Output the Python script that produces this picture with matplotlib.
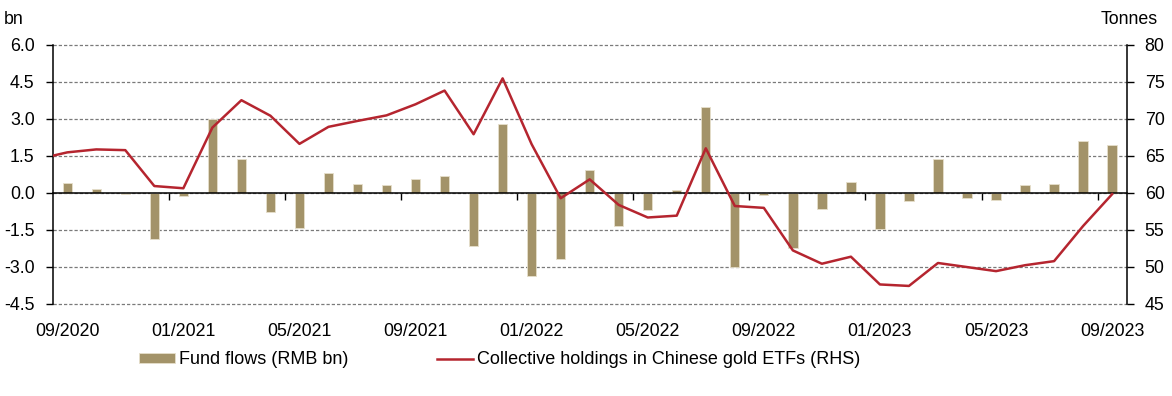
import numpy as np
import pandas as pd
import matplotlib
matplotlib.use("Agg")
import matplotlib.pyplot as plt
from matplotlib.ticker import FixedLocator, FormatStrFormatter

plt.rcParams['font.family'] = ['Liberation Sans', 'DejaVu Sans']

# monthly data, 09/2020 .. 09/2023
months = pd.date_range("2020-09-01", "2023-09-01", freq="MS").strftime("%m/%Y").tolist()

fund_flows = [0.40, 0.16, -0.07, -1.87, -0.15, 2.97, 1.38, -0.79, -1.45, 0.78,
              0.36, 0.32, 0.54, 0.66, -2.17, 2.77, -3.36, -2.70, 0.94, -1.37,
              -0.71, 0.12, 3.46, -3.01, -0.09, -2.25, -0.68, 0.42, -1.47, -0.33,
              1.38, -0.23, -0.29, 0.32, 0.37, 2.08, 1.93]

holdings = [65.45, 65.85, 65.75, 60.9, 60.6, 68.8, 72.5, 70.4, 66.6, 68.9,
            69.7, 70.45, 71.95, 73.8, 67.9, 75.45, 66.55, 59.25, 61.8, 58.35,
            56.65, 56.9, 66.0, 58.2, 57.95, 52.2, 50.4, 51.35, 47.6, 47.4,
            50.5, 49.95, 49.4, 50.2, 50.75, 55.5, 59.8]
holdings_prev = 64.55  # 08/2020, only the clipped lead-in segment shows

bar_color = '#A39369'
line_color = '#B5252F'
fs = 12.8

fig = plt.figure(figsize=(11.72, 3.96), dpi=100)
ax = fig.add_axes([0.045, 0.2331, 0.9163, 0.654])
ax2 = ax.twinx()

x = np.arange(len(months))
ax.bar(x, fund_flows, width=0.32, color=bar_color, edgecolor='#E6DFCB',
       linewidth=0.6, zorder=2, label='Fund flows (RMB bn)')

x_line = np.concatenate([[-1], x])
ax2.plot(x_line, [holdings_prev] + holdings, color=line_color, lw=1.8,
         label='Collective holdings in Chinese gold ETFs (RHS)')

ax.set_xlim(-0.5, len(months) - 0.5)
ax.set_ylim(-4.5, 6.0)
ax.set_yticks(np.arange(-4.5, 6.01, 1.5))
ax.yaxis.set_major_formatter(FormatStrFormatter('%.1f'))
ax2.set_ylim(45, 80)
ax2.set_yticks(np.arange(45, 81, 5))

ax.grid(axis='y', color='#7a7a7a', lw=0.9, linestyle=(0, (2.6, 1.6)), zorder=0)
ax.set_axisbelow(True)
for gl in ax.yaxis.get_gridlines():
    gl.set_clip_on(False)

# zero line carries the category tick marks
ax.spines['bottom'].set_position(('data', 0))
ax.spines['bottom'].set_linewidth(1.1)
ax.spines['top'].set_visible(False)
ax.spines['right'].set_visible(False)
ax.spines['left'].set_linewidth(1.1)
ax.xaxis.set_major_locator(FixedLocator(np.arange(3.5, len(months) - 1, 4)))
ax.tick_params(axis='x', which='major', length=5, width=1, direction='out',
               labelbottom=False)
ax.tick_params(axis='y', length=5, width=1, pad=8, labelsize=fs)

for side in ['top', 'bottom', 'left']:
    ax2.spines[side].set_visible(False)
ax2.spines['right'].set_linewidth(1.1)
ax2.tick_params(axis='y', length=5, width=1, pad=8, labelsize=fs)

# date labels under the plot area
secax = ax.secondary_xaxis('bottom')
secax.set_xticks(x[::4])
secax.set_xticklabels(months[::4])
secax.tick_params(length=0, pad=14, labelsize=fs)
secax.spines['bottom'].set_visible(False)

fig.text(0.003, 1 - 19 / 396, 'bn', fontsize=fs, ha='left', va='center')
fig.text(0.9877, 1 - 19 / 396, 'Tonnes', fontsize=fs, ha='right', va='center')

h1, l1 = ax.get_legend_handles_labels()
h2, l2 = ax2.get_legend_handles_labels()
fig.legend(h1 + h2, l1 + l2, loc='center left', bbox_to_anchor=(0.1186, 1 - 360 / 396),
           ncol=2, frameon=False, fontsize=13, borderpad=0, borderaxespad=0,
           handlelength=2.0, handleheight=0.45, handletextpad=0.22, columnspacing=4.9)

fig.savefig('out.png', dpi=100)
